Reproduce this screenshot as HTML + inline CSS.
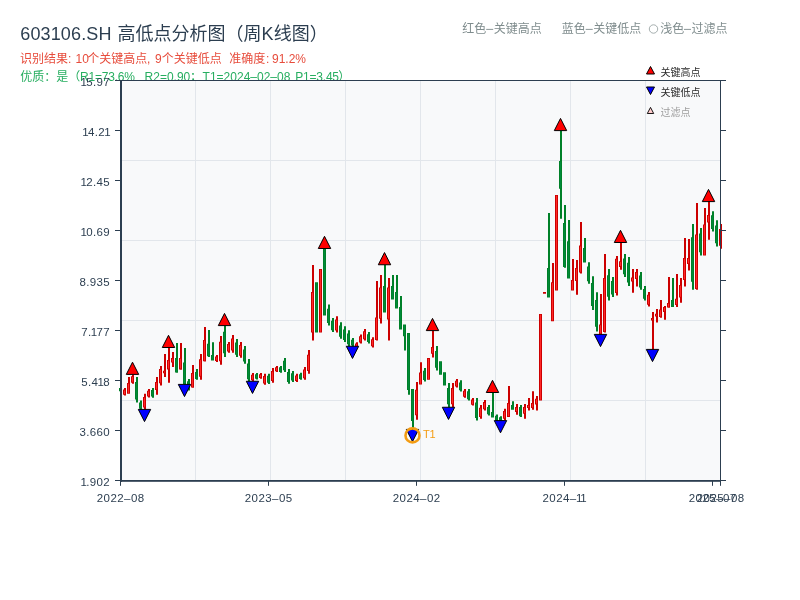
<!DOCTYPE html>
<html lang="zh"><head><meta charset="utf-8"><title>603106.SH 高低点分析图（周K线图）</title>
<style>html,body{margin:0;padding:0;background:#fff}body{width:800px;height:600px;overflow:hidden;font-family:"Liberation Sans","Noto Sans CJK SC",sans-serif}svg{display:block;will-change:transform}text{font-family:"Liberation Sans","Noto Sans CJK SC",sans-serif}</style>
</head><body>
<svg width="800" height="600" viewBox="0 0 800 600">
<rect width="800" height="600" fill="#fff"/>
<g id="title">
<text x="20.3" y="40.2" font-size="18" fill="#2c3e50" letter-spacing="0.13">603106.SH</text>
<text x="117.5" y="40.2" font-size="18" fill="#2c3e50">高低点分析图（周</text>
<text x="261.6" y="40.2" font-size="18" fill="#2c3e50">K</text>
<text x="273.8" y="40.2" font-size="18" fill="#2c3e50">线图）</text>
</g>
<g id="sub1">
<text x="20" y="63.4" font-size="12" fill="#e74c3c">识别结果</text>
<text x="68" y="63.4" font-size="12" fill="#e74c3c">:</text>
<text x="75.5" y="63.4" font-size="12" fill="#e74c3c">10</text>
<text x="87.3" y="63.4" font-size="12" fill="#e74c3c">个关键高点</text>
<text x="147" y="63.4" font-size="12" fill="#e74c3c">,</text>
<text x="155.1" y="63.4" font-size="12" fill="#e74c3c">9</text>
<text x="161.8" y="63.4" font-size="12" fill="#e74c3c">个关键低点</text>
<text x="229.2" y="63.4" font-size="12" fill="#e74c3c">准确度</text>
<text x="266" y="63.4" font-size="12" fill="#e74c3c">:</text>
<text x="272" y="63.4" font-size="12" fill="#e74c3c">91.2%</text>
</g>
<g id="sub2">
<text x="20.2" y="81.4" font-size="12" fill="#27ae60">优质</text>
<text x="44.2" y="81.4" font-size="12" fill="#27ae60">：</text>
<text x="56.2" y="81.4" font-size="12" fill="#27ae60">是（</text>
<text x="80" y="81.4" font-size="12" fill="#27ae60" letter-spacing="-0.2">R1=73.6%</text>
<text x="144.6" y="81.4" font-size="12" fill="#27ae60">R2=0.90</text>
<text x="189.9" y="81.4" font-size="12" fill="#27ae60">；</text>
<text x="202.6" y="81.4" font-size="12" fill="#27ae60">T1=2024–02–08</text>
<text x="295.2" y="81.4" font-size="12" fill="#27ae60" letter-spacing="-0.2">P1=3.45</text>
<text x="338.3" y="81.4" font-size="12" fill="#27ae60">）</text>
</g>
<g id="toplegend">
<text x="462.2" y="33.2" font-size="12" fill="#7f8c8d">红色</text>
<rect x="486.2" y="28.9" width="7" height="0.9" fill="#7f8c8d"/>
<text x="493.8" y="33.2" font-size="12" fill="#7f8c8d">关键高点</text>
<text x="561.8" y="33.2" font-size="12" fill="#7f8c8d">蓝色</text>
<rect x="585.7" y="28.9" width="7" height="0.9" fill="#7f8c8d"/>
<text x="593.2" y="33.2" font-size="12" fill="#7f8c8d">关键低点</text>
<circle cx="653.5" cy="29" r="4.2" fill="none" stroke="#7f8c8d" stroke-width="0.7"/>
<text x="660.2" y="33.2" font-size="12" fill="#7f8c8d">浅色</text>
<rect x="684" y="28.9" width="7" height="0.9" fill="#7f8c8d"/>
<text x="691.5" y="33.2" font-size="12" fill="#7f8c8d">过滤点</text>
</g>
<rect x="120" y="80" width="601" height="401" fill="#f8f9fa"/>
<path d="M195.5 81V480M270.5 81V480M345.5 81V480M420.5 81V480M495.5 81V480M570.5 81V480M645.5 81V480M122 160.5H720M122 240.5H720M122 320.5H720M122 400.5H720" stroke="#e2e6eb" stroke-width="1" fill="none"/>
<g id="candles" shape-rendering="auto">
<path fill="#008028" d="M120 386.9h2V391.9h-2zM136 376.9h2V402.5h-2zM140 400.6h2V410h-2zM152 388.1h2V397.75h-2zM176 343.1h2V372.75h-2zM184 348.1h2V384.4h-2zM188 379h2V390.6h-2zM196 369h2V379.75h-2zM208 330h2V356.9h-2zM212 342.25h2V360.6h-2zM224 325.6h2V356.9h-2zM236 339h2V356.9h-2zM244 346h2V363.75h-2zM248 359h2V382h-2zM256 373h2V379.4h-2zM268 373.75h2V384h-2zM280 366h2V372.75h-2zM284 358h2V371.9h-2zM288 369h2V383.75h-2zM292 371h2V381.9h-2zM300 372.75h2V379.75h-2zM316 282.25h2V332.5h-2zM324 248.5h2V315.6h-2zM328 304.4h2V325.6h-2zM332 318h2V331.9h-2zM340 322.25h2V338.75h-2zM344 326.25h2V341.9h-2zM348 330.25h2V346.25h-2zM352 338h2V346.5h-2zM368 331.9h2V343.5h-2zM384 264.75h2V312.5h-2zM392 275h2V299.4h-2zM396 275h2V308.6h-2zM400 296h2V329.4h-2zM404 324.4h2V350.6h-2zM408 333.1h2V394.75h-2zM412 389h2V429h-2zM424 368.1h2V381.5h-2zM436 346h2V370.6h-2zM440 361.25h2V374.75h-2zM444 372.25h2V385.6h-2zM448 383.1h2V407.25h-2zM460 380.25h2V391.5h-2zM468 389h2V400.6h-2zM476 398.1h2V420.6h-2zM488 405h2V415.6h-2zM492 392.5h2V417.5h-2zM496 414.4h2V421h-2zM500 416.25h2V421h-2zM512 401.25h2V409.75h-2zM520 405h2V416.9h-2zM548 213.1h2V297.5h-2zM560 131h2V218.75h-2zM564 205h2V267.75h-2zM568 220h2V278.5h-2zM584 238.1h2V262.5h-2zM588 262.25h2V283.75h-2zM592 276.25h2V310h-2zM596 292.25h2V331.5h-2zM608 269h2V300.6h-2zM612 276.9h2V296.9h-2zM624 254h2V276.9h-2zM628 256.9h2V286h-2zM640 271.9h2V289.75h-2zM644 286h2V300.6h-2zM672 278h2V306.9h-2zM692 224h2V289.75h-2zM700 228.1h2V255.6h-2zM712 211.25h2V231.5h-2zM716 220.25h2V246.5h-2zM119 387.9h3V391.3h-3zM135 382.02h3V399.43h-3zM139 402.48h3V408.87h-3zM151 390.03h3V396.59h-3zM175 358h3V372.5h-3zM183 362.5h3V384h-3zM187 381.32h3V389.21h-3zM195 372h3V379h-3zM207 343.75h3V356.25h-3zM211 355h3V360.6h-3zM223 331.86h3V353.14h-3zM235 342.58h3V354.75h-3zM243 349.55h3V361.62h-3zM247 363.6h3V379.24h-3zM255 374.28h3V378.63h-3zM267 375.8h3V382.77h-3zM279 367.35h3V371.94h-3zM283 360.78h3V370.23h-3zM287 371.95h3V381.98h-3zM291 373.18h3V380.59h-3zM299 374.15h3V378.91h-3zM315 282.25h3V332.5h-3zM323 248.5h3V315.6h-3zM327 308.64h3V323.06h-3zM331 320.78h3V330.23h-3zM339 325.55h3V336.77h-3zM343 329.38h3V340.02h-3zM347 333.45h3V344.33h-3zM351 339.7h3V345.48h-3zM367 334.22h3V342.11h-3zM383 286h3V312.5h-3zM391 286h3V299.4h-3zM395 292h3V308.6h-3zM399 306.9h3V329.4h-3zM403 324.4h3V336.25h-3zM407 333.1h3V390h-3zM411 389h3V421h-3zM423 370.78h3V379.89h-3zM435 350.92h3V367.65h-3zM439 361.25h3V374.75h-3zM443 372.25h3V385.6h-3zM447 387.93h3V404.35h-3zM459 382.5h3V390.15h-3zM467 391.32h3V399.21h-3zM475 402.6h3V417.9h-3zM487 407.12h3V414.33h-3zM491 412h3V417.5h-3zM495 415.72h3V420.21h-3zM499 417.2h3V420.43h-3zM511 405h3V409.75h-3zM519 406.9h3V416.25h-3zM547 268h3V297.5h-3zM559 161h3V188.75h-3zM563 223.1h3V267h-3zM567 241.25h3V278.5h-3zM583 248h3V262.5h-3zM587 266.55h3V281.17h-3zM591 283h3V305.95h-3zM595 300.1h3V326.79h-3zM607 275.32h3V296.81h-3zM611 280.9h3V294.5h-3zM623 258.58h3V274.15h-3zM627 262.72h3V282.51h-3zM639 275.47h3V287.61h-3zM643 288.92h3V298.85h-3zM671 300h3V306.9h-3zM691 237.15h3V281.86h-3zM699 233.6h3V252.3h-3zM711 215.3h3V229.07h-3zM715 225.5h3V243.35h-3z"/>
<path fill="#008a3a" d="M120 388.7h1V390.5h-1zM136 382.82h1V398.63h-1zM140 403.28h1V408.07h-1zM152 390.83h1V395.79h-1zM176 358.8h1V371.7h-1zM184 363.3h1V383.2h-1zM188 382.12h1V388.41h-1zM196 372.8h1V378.2h-1zM208 344.55h1V355.45h-1zM212 355.8h1V359.8h-1zM224 332.66h1V352.34h-1zM236 343.38h1V353.95h-1zM244 350.35h1V360.82h-1zM248 364.4h1V378.44h-1zM256 375.08h1V377.83h-1zM268 376.6h1V381.97h-1zM280 368.15h1V371.14h-1zM284 361.58h1V369.43h-1zM288 372.75h1V381.18h-1zM292 373.98h1V379.79h-1zM300 374.95h1V378.11h-1zM316 283.05h1V331.7h-1zM324 249.3h1V314.8h-1zM328 309.44h1V322.26h-1zM332 321.58h1V329.43h-1zM340 326.35h1V335.97h-1zM344 330.18h1V339.22h-1zM348 334.25h1V343.53h-1zM352 340.5h1V344.68h-1zM368 335.02h1V341.31h-1zM384 286.8h1V311.7h-1zM392 286.8h1V298.6h-1zM396 292.8h1V307.8h-1zM400 307.7h1V328.6h-1zM404 325.2h1V335.45h-1zM408 333.9h1V389.2h-1zM412 389.8h1V420.2h-1zM424 371.58h1V379.09h-1zM436 351.72h1V366.85h-1zM440 362.05h1V373.95h-1zM444 373.05h1V384.8h-1zM448 388.73h1V403.55h-1zM460 383.3h1V389.35h-1zM468 392.12h1V398.41h-1zM476 403.4h1V417.1h-1zM488 407.92h1V413.53h-1zM492 412.8h1V416.7h-1zM496 416.52h1V419.41h-1zM500 418h1V419.63h-1zM512 405.8h1V408.95h-1zM520 407.7h1V415.45h-1zM548 268.8h1V296.7h-1zM560 161.8h1V187.95h-1zM564 223.9h1V266.2h-1zM568 242.05h1V277.7h-1zM584 248.8h1V261.7h-1zM588 267.35h1V280.37h-1zM592 283.8h1V305.15h-1zM596 300.9h1V325.99h-1zM608 276.12h1V296.01h-1zM612 281.7h1V293.7h-1zM624 259.38h1V273.35h-1zM628 263.52h1V281.71h-1zM640 276.27h1V286.81h-1zM644 289.72h1V298.05h-1zM672 300.8h1V306.1h-1zM692 237.95h1V281.06h-1zM700 234.4h1V251.5h-1zM712 216.1h1V228.27h-1zM716 226.3h1V242.55h-1z"/>
<path fill="#cc0000" d="M124 388.1h2V395.6h-2zM128 376.9h2V393.75h-2zM132 374.4h2V383.75h-2zM144 393.75h2V409.4h-2zM148 389h2V397.5h-2zM156 376.9h2V394.75h-2zM160 366h2V385.6h-2zM164 354h2V376.9h-2zM168 347.5h2V382.75h-2zM172 351.9h2V366.9h-2zM180 343.1h2V369.75h-2zM192 365h2V387.75h-2zM200 354h2V379.75h-2zM204 326.9h2V361.5h-2zM216 355h2V361.9h-2zM220 336h2V364.75h-2zM228 341.9h2V352.75h-2zM232 335h2V352.75h-2zM240 341.9h2V357.75h-2zM252 373h2V381.25h-2zM260 373h2V378.75h-2zM264 373.75h2V384.75h-2zM272 368h2V382.75h-2zM276 366h2V371.9h-2zM296 373.75h2V381.9h-2zM304 366.9h2V379.75h-2zM308 350h2V373.75h-2zM312 265h2V340.6h-2zM320 269h2V332.5h-2zM336 316.25h2V332.5h-2zM356 342.25h2V348h-2zM360 334.4h2V343.5h-2zM364 329h2V340.6h-2zM372 337.25h2V347.5h-2zM376 281h2V340.6h-2zM380 275h2V323.5h-2zM388 278.1h2V340.6h-2zM416 382.1h2V419.75h-2zM420 362.25h2V384.6h-2zM428 358.1h2V379.75h-2zM432 330.6h2V357.5h-2zM452 383.1h2V407.25h-2zM456 379h2V387.5h-2zM464 389h2V397.75h-2zM472 398.1h2V405.6h-2zM480 405h2V418.75h-2zM484 400h2V410.6h-2zM504 408.75h2V420h-2zM508 386h2V416.9h-2zM516 404h2V414.75h-2zM524 404h2V418.75h-2zM528 398h2V410.6h-2zM532 391.25h2V409.75h-2zM536 396h2V410.6h-2zM540 314h2V400.6h-2zM544 291.9h2V293.75h-2zM552 263h2V321.25h-2zM556 195h2V290.6h-2zM572 259h2V290.6h-2zM576 260h2V294.75h-2zM580 221.9h2V273.5h-2zM600 294h2V334.4h-2zM604 254h2V332.5h-2zM616 256h2V295.6h-2zM620 242.5h2V269.75h-2zM632 269h2V292.75h-2zM636 269h2V286.5h-2zM648 291.9h2V306.5h-2zM652 311.9h2V349.4h-2zM656 309h2V322.5h-2zM660 300h2V317.75h-2zM664 306h2V319.75h-2zM668 276.9h2V307.75h-2zM676 274h2V306.9h-2zM680 278.1h2V302.75h-2zM684 238.1h2V286.5h-2zM688 239h2V270.6h-2zM696 203.1h2V289.75h-2zM704 208.1h2V255.6h-2zM708 201.6h2V239.75h-2zM720 224h2V248.75h-2zM123 389.6h3V394.7h-3zM127 383h3V393.75h-3zM131 376.27h3V382.63h-3zM143 396.88h3V407.52h-3zM147 390.7h3V396.48h-3zM155 382h3V390h-3zM159 369h3V383.3h-3zM163 370.8h3V373.3h-3zM167 360h3V369.4h-3zM171 358h3V362.5h-3zM179 358h3V369.4h-3zM191 373h3V387.5h-3zM199 359.15h3V376.66h-3zM203 340h3V361.25h-3zM215 356.38h3V361.07h-3zM219 341.75h3V361.3h-3zM227 344.07h3V351.45h-3zM231 338.55h3V350.62h-3zM239 345.07h3V355.85h-3zM251 374.65h3V380.26h-3zM259 374.15h3V378.06h-3zM263 375.95h3V383.43h-3zM271 370.95h3V380.98h-3zM275 367.18h3V371.19h-3zM295 375.38h3V380.92h-3zM303 369.47h3V378.21h-3zM307 354.75h3V370.9h-3zM311 291.9h3V332.5h-3zM319 269h3V332.5h-3zM335 319.5h3V330.55h-3zM355 343.4h3V347.31h-3zM359 336.22h3V342.41h-3zM363 331.32h3V339.21h-3zM371 339.3h3V346.27h-3zM375 317.5h3V340h-3zM379 287.5h3V318.75h-3zM387 287.5h3V319.4h-3zM415 389.63h3V415.23h-3zM419 372.5h3V384.6h-3zM427 358.1h3V379.75h-3zM431 346.9h3V353.75h-3zM451 387.93h3V404.35h-3zM455 380.7h3V386.48h-3zM463 390.75h3V396.7h-3zM471 399.6h3V404.7h-3zM479 407.75h3V417.1h-3zM483 402.12h3V409.33h-3zM503 411h3V418.65h-3zM507 403h3V416.9h-3zM515 406.9h3V411.9h-3zM523 406.9h3V413.75h-3zM527 405h3V408h-3zM531 403h3V408h-3zM535 398.75h3V404.4h-3zM539 314h3V400.6h-3zM543 291.9h3V293.75h-3zM551 282.25h3V321.25h-3zM555 195h3V290.6h-3zM571 280h3V290.6h-3zM575 268h3V281h-3zM579 245.6h3V272.5h-3zM599 324.4h3V334.4h-3zM603 278h3V332h-3zM615 258.75h3V293h-3zM619 261.25h3V266.9h-3zM631 277.5h3V281.5h-3zM635 272h3V279h-3zM647 294.82h3V304.75h-3zM651 318h3V320.6h-3zM655 313.75h3V316.5h-3zM659 309.4h3V317h-3zM663 306.9h3V312h-3zM667 303h3V307.5h-3zM675 298.75h3V305h-3zM679 285h3V297.5h-3zM683 258h3V280h-3zM687 258h3V264h-3zM695 234.4h3V289h-3zM703 224.4h3V255.6h-3zM707 215h3V222.5h-3zM719 228.95h3V245.78h-3z"/>
<path fill="#ff2828" d="M124 390.4h1V393.9h-1zM128 383.8h1V392.95h-1zM132 377.07h1V381.83h-1zM144 397.68h1V406.72h-1zM148 391.5h1V395.68h-1zM156 382.8h1V389.2h-1zM160 369.8h1V382.5h-1zM164 371.6h1V372.5h-1zM168 360.8h1V368.6h-1zM172 358.8h1V361.7h-1zM180 358.8h1V368.6h-1zM192 373.8h1V386.7h-1zM200 359.95h1V375.86h-1zM204 340.8h1V360.45h-1zM216 357.18h1V360.27h-1zM220 342.55h1V360.5h-1zM228 344.87h1V350.65h-1zM232 339.35h1V349.82h-1zM240 345.87h1V355.05h-1zM252 375.45h1V379.46h-1zM260 374.95h1V377.26h-1zM264 376.75h1V382.63h-1zM272 371.75h1V380.18h-1zM276 367.98h1V370.39h-1zM296 376.18h1V380.12h-1zM304 370.27h1V377.41h-1zM308 355.55h1V370.1h-1zM312 292.7h1V331.7h-1zM320 269.8h1V331.7h-1zM336 320.3h1V329.75h-1zM356 344.2h1V346.51h-1zM360 337.02h1V341.61h-1zM364 332.12h1V338.41h-1zM372 340.1h1V345.47h-1zM376 318.3h1V339.2h-1zM380 288.3h1V317.95h-1zM388 288.3h1V318.6h-1zM416 390.43h1V414.43h-1zM420 373.3h1V383.8h-1zM428 358.9h1V378.95h-1zM432 347.7h1V352.95h-1zM452 388.73h1V403.55h-1zM456 381.5h1V385.68h-1zM464 391.55h1V395.9h-1zM472 400.4h1V403.9h-1zM480 408.55h1V416.3h-1zM484 402.92h1V408.53h-1zM504 411.8h1V417.85h-1zM508 403.8h1V416.1h-1zM516 407.7h1V411.1h-1zM524 407.7h1V412.95h-1zM528 405.8h1V407.2h-1zM532 403.8h1V407.2h-1zM536 399.55h1V403.6h-1zM540 314.8h1V399.8h-1zM552 283.05h1V320.45h-1zM556 195.8h1V289.8h-1zM572 280.8h1V289.8h-1zM576 268.8h1V280.2h-1zM580 246.4h1V271.7h-1zM600 325.2h1V333.6h-1zM604 278.8h1V331.2h-1zM616 259.55h1V292.2h-1zM620 262.05h1V266.1h-1zM632 278.3h1V280.7h-1zM636 272.8h1V278.2h-1zM648 295.62h1V303.95h-1zM652 318.8h1V319.8h-1zM656 314.55h1V315.7h-1zM660 310.2h1V316.2h-1zM664 307.7h1V311.2h-1zM668 303.8h1V306.7h-1zM676 299.55h1V304.2h-1zM680 285.8h1V296.7h-1zM684 258.8h1V279.2h-1zM688 258.8h1V263.2h-1zM696 235.2h1V288.2h-1zM704 225.2h1V254.8h-1zM708 215.8h1V221.7h-1zM720 229.75h1V244.98h-1z"/>
</g>
<g id="axes" fill="#2c3e50">
<rect x="120" y="80" width="2" height="401.8"/>
<rect x="120" y="480" width="601" height="1.8"/>
<rect x="120" y="80" width="601" height="1"/>
<rect x="720" y="80" width="1" height="401"/>
<rect x="115" y="80" width="5" height="1"/>
<rect x="721" y="80" width="5" height="1"/>
<rect x="115" y="130" width="5" height="1"/>
<rect x="721" y="130" width="5" height="1"/>
<rect x="115" y="180" width="5" height="1"/>
<rect x="721" y="180" width="5" height="1"/>
<rect x="115" y="230" width="5" height="1"/>
<rect x="721" y="230" width="5" height="1"/>
<rect x="115" y="280" width="5" height="1"/>
<rect x="721" y="280" width="5" height="1"/>
<rect x="115" y="330" width="5" height="1"/>
<rect x="721" y="330" width="5" height="1"/>
<rect x="115" y="380" width="5" height="1"/>
<rect x="721" y="380" width="5" height="1"/>
<rect x="115" y="430" width="5" height="1"/>
<rect x="721" y="430" width="5" height="1"/>
<rect x="115" y="480" width="5" height="1"/>
<rect x="721" y="480" width="5" height="1"/>
<rect x="120" y="481" width="1" height="4.8"/>
<rect x="268" y="481" width="1" height="4.8"/>
<rect x="416" y="481" width="1" height="4.8"/>
<rect x="564" y="481" width="1" height="4.8"/>
<rect x="712" y="481" width="1" height="4.8"/>
<rect x="720" y="481" width="1" height="4.8"/>
</g>
<g id="markers" stroke="#000" stroke-width="1" stroke-linejoin="miter">
<path fill="#ff0000" d="M126.3 374.4L138.7 374.4L132.5 362.2z"/>
<path fill="#ff0000" d="M162.3 347.5L174.7 347.5L168.5 335.3z"/>
<path fill="#ff0000" d="M218.3 325.6L230.7 325.6L224.5 313.4z"/>
<path fill="#ff0000" d="M318.3 248.5L330.7 248.5L324.5 236.3z"/>
<path fill="#ff0000" d="M378.3 264.75L390.7 264.75L384.5 252.55z"/>
<path fill="#ff0000" d="M426.3 330.6L438.7 330.6L432.5 318.4z"/>
<path fill="#ff0000" d="M486.3 392.5L498.7 392.5L492.5 380.3z"/>
<path fill="#ff0000" d="M554.3 130.6L566.7 130.6L560.5 118.4z"/>
<path fill="#ff0000" d="M614.3 242.5L626.7 242.5L620.5 230.3z"/>
<path fill="#ff0000" d="M702.3 201.6L714.7 201.6L708.5 189.4z"/>
<path fill="#0000ff" d="M138.3 409.4L150.7 409.4L144.5 421.6z"/>
<path fill="#0000ff" d="M178.3 384.4L190.7 384.4L184.5 396.6z"/>
<path fill="#0000ff" d="M246.3 381.25L258.7 381.25L252.5 393.45z"/>
<path fill="#0000ff" d="M346.3 346.25L358.7 346.25L352.5 358.45z"/>
<path fill="#0000ff" d="M406.3 429.4L418.7 429.4L412.5 441.6z"/>
<path fill="#0000ff" d="M442.3 407.25L454.7 407.25L448.5 419.45z"/>
<path fill="#0000ff" d="M494.3 420.6L506.7 420.6L500.5 432.8z"/>
<path fill="#0000ff" d="M594.3 334.4L606.7 334.4L600.5 346.6z"/>
<path fill="#0000ff" d="M646.3 349.4L658.7 349.4L652.5 361.6z"/>
</g>
<circle cx="412.5" cy="435.4" r="7" fill="none" stroke="#f39c12" stroke-width="2.6"/>
<text x="422.9" y="437.6" font-size="11" fill="#f39c12">T1</text>
<g id="ylabels" font-size="11.5" fill="#2c3e50" letter-spacing="0.35">
<text x="81.27" y="86"><tspan dx="-0.7">1</tspan><tspan dx="-1">5</tspan>.97</text>
<text x="82.97" y="136"><tspan dx="-0.7">1</tspan><tspan dx="-1">4</tspan>.2<tspan dx="-0.7">1</tspan></text>
<text x="81.27" y="186"><tspan dx="-0.7">1</tspan><tspan dx="-1">2</tspan>.45</text>
<text x="81.27" y="236"><tspan dx="-0.7">1</tspan><tspan dx="-1">0</tspan>.69</text>
<text x="79.57" y="286">8.935</text>
<text x="81.27" y="336">7.<tspan dx="-0.7">1</tspan><tspan dx="-1">7</tspan>7</text>
<text x="81.27" y="386">5.4<tspan dx="-0.7">1</tspan><tspan dx="-1">8</tspan></text>
<text x="79.57" y="436">3.660</text>
<text x="81.27" y="486"><tspan dx="-0.7">1</tspan><tspan dx="-1">.</tspan>902</text>
</g>
<g id="xlabels" font-size="11.5" fill="#2c3e50" letter-spacing="0.45">
<text x="96.74" y="502.4">2022–08</text>
<text x="244.74" y="502.4">2023–05</text>
<text x="392.74" y="502.4">2024–02</text>
<text x="542.44" y="502.4">2024–<tspan dx="-0.7">1</tspan><tspan dx="-1.7">1</tspan></text>
<text x="688.74" y="502.4">2025–07</text>
<text x="696.74" y="502.4">2025–08</text>
</g>
<g id="legend">
<path fill="#ff0000" stroke="#000" stroke-width="1" d="M646.5 74L654.5 74L650.5 66.5z"/>
<text x="660.4" y="76.3" font-size="10" fill="#2b2b2b">关键高点</text>
<path fill="#0000ff" stroke="#000" stroke-width="1" d="M646.5 87L654.5 87L650.5 94.5z"/>
<text x="660.4" y="96.2" font-size="10" fill="#2b2b2b">关键低点</text>
<path fill="#ffcccc" stroke="#000" stroke-width="0.9" d="M647.3 113.5L653.7 113.5L650.5 107.4z"/>
<text x="660.4" y="116.1" font-size="10" fill="#9e9e9e">过滤点</text>
</g>
</svg></body></html>
